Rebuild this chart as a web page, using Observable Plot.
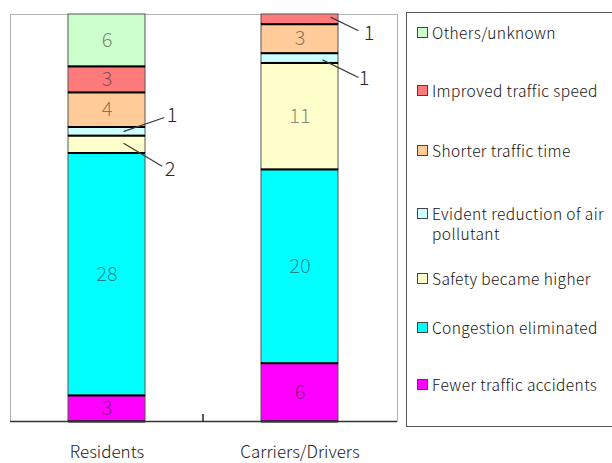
<!DOCTYPE html>
<html>
<head>
<meta charset="utf-8">
<script src="https://cdn.jsdelivr.net/npm/d3@7"></script>
<script src="https://cdn.jsdelivr.net/npm/@observablehq/plot@0.6"></script>
<style>
  html, body { margin: 0; padding: 0; background: #fff; }
  body { width: 612px; height: 463px; overflow: hidden; position: relative; font-family: "Noto Sans CJK JP", "DejaVu Sans", sans-serif; }
  #chart { position: absolute; left: 0; top: 0; }
  #legend { position: absolute; left: 406px; top: 12px; width: 240px; height: 415px; border: 1px solid #555; box-sizing: border-box; background: #fff; }
  .item { position: absolute; left: 10px; display: flex; align-items: flex-start; font-size: 15.5px; font-weight: 300; letter-spacing: 0.4px; line-height: 20px; color: #111; }
  .sw { flex: none; width: 11px; height: 11px; border: 1px solid #444; box-sizing: border-box; margin-top: 5px; margin-right: 4px; }
  .lab { width: 200px; }
</style>
</head>
<body>
<div id="chart"></div>
<div id="legend"></div>
<script>
// Respondents grouped by type, counts per reason (bottom to top of each stack)
const categories = ["Residents", "Carriers/Drivers"];
const reasons = [
  "Fewer traffic accidents",
  "Congestion eliminated",
  "Safety became higher",
  "Evident reduction of air pollutant",
  "Shorter traffic time",
  "Improved traffic speed",
  "Others/unknown"
];
const residents = [3, 28, 2, 1, 4, 3, 6];
const carriers = [6, 20, 11, 1, 3, 1, 0];
const colors = ["#ff00ff", "#00ffff", "#ffffcc", "#ccffff", "#ffcc99", "#ff7a7a", "#ccffcc"];

const series = [residents, carriers];
const rows = [];
categories.forEach((group, gi) => {
  reasons.forEach((reason, ri) => {
    rows.push({group, reason, value: series[gi][ri]});
  });
});
// zero-height segments are left out (they do not affect the stacks)
const segments = rows.filter(d => d.value > 0);

// small segments get an outside label with a leader line
const callouts = [
  {group: "Residents", reason: "Evident reduction of air pollutant", dx: 17, dy: 0, rotate: 71, length: 42, tx: 65, ty: -16},
  {group: "Residents", reason: "Safety became higher", dx: 17, dy: -1, rotate: 121, length: 44, tx: 63, ty: 25},
  {group: "Carriers/Drivers", reason: "Improved traffic speed", dx: 31, dy: -2, rotate: 116, length: 30, tx: 69, ty: 14},
  {group: "Carriers/Drivers", reason: "Evident reduction of air pollutant", dx: 23, dy: 2, rotate: 116, length: 39, tx: 64, ty: 20}
];

const leader = {draw(context, l) { context.moveTo(0, 0); context.lineTo(0, -l); }};
const stackOpts = {x: "group", y: "value", z: "reason", offset: "normalize"};

const calloutMarks = callouts.flatMap(c => {
  const match = d => d.group === c.group && d.reason === c.reason;
  return [
    Plot.vector(segments, Plot.stackY({
      ...stackOpts,
      length: c.length,
      rotate: c.rotate,
      anchor: "start",
      shape: leader,
      stroke: d => match(d) ? "#3a3a3a" : "none",
      strokeWidth: 1.2,
      dx: c.dx,
      dy: c.dy
    })),
    Plot.text(segments, Plot.stackY({
      ...stackOpts,
      text: d => match(d) ? String(d.value) : null,
      fill: "#2a2a2a",
      fontSize: 20,
      fontWeight: 300,
      dx: c.tx,
      dy: c.ty
    }))
  ];
});

// small tick at the boundary between the two category bands
const separator = (index, scales, values, dimensions) => {
  const x = scales.x;
  const bw = x.bandwidth ? x.bandwidth() : 0;
  const xs = (x(categories[0]) + bw + x(categories[1])) / 2;
  const yb = dimensions.height - dimensions.marginBottom;
  return d3.create("svg:line")
    .attr("x1", xs).attr("x2", xs)
    .attr("y1", yb - 7).attr("y2", yb)
    .attr("stroke", "#222").attr("stroke-width", 1.5)
    .node();
};

const chart = Plot.plot({
  width: 400,
  height: 463,
  marginLeft: 10,
  marginRight: 3,
  marginTop: 14,
  marginBottom: 42,
  style: {fontFamily: "'Noto Sans CJK JP', 'DejaVu Sans', sans-serif", background: "transparent", color: "#222"},
  x: {domain: categories, paddingInner: 0.6, paddingOuter: 0.3, label: null},
  y: {domain: [0, 1], axis: null},
  color: {domain: reasons, range: colors},
  marks: [
    Plot.frame({stroke: "#b4b4b4"}),
    Plot.barY(segments, Plot.stackY({...stackOpts, fill: "reason", stroke: "#555", strokeWidth: 1})),
    Plot.tickY(segments, Plot.stackY1({...stackOpts, stroke: "#000", strokeWidth: 2})),
    Plot.text(segments, Plot.stackY({
      ...stackOpts,
      text: d => d.value >= 3 ? String(d.value) : null,
      fill: "#222",
      fillOpacity: 0.55,
      fontSize: 20,
      fontWeight: 300
    })),
    ...calloutMarks,
    Plot.ruleY([0], {stroke: "#333", strokeWidth: 1.5}),
    separator,
    Plot.axisX({tickSize: 0, tickPadding: 24, fontSize: 17, fontWeight: 300, label: null})
  ]
});
document.getElementById("chart").appendChild(chart);

// legend, listed top to bottom as the stacks read
const legendTops = [9, 67, 127, 190, 255, 304, 361];
const legend = d3.select("#legend");
reasons.slice().reverse().forEach((r, i) => {
  const item = legend.append("div").attr("class", "item").style("top", legendTops[i] + "px");
  item.append("div").attr("class", "sw").style("background", colors[reasons.indexOf(r)]);
  item.append("div").attr("class", "lab").text(r);
});
</script>
</body>
</html>
